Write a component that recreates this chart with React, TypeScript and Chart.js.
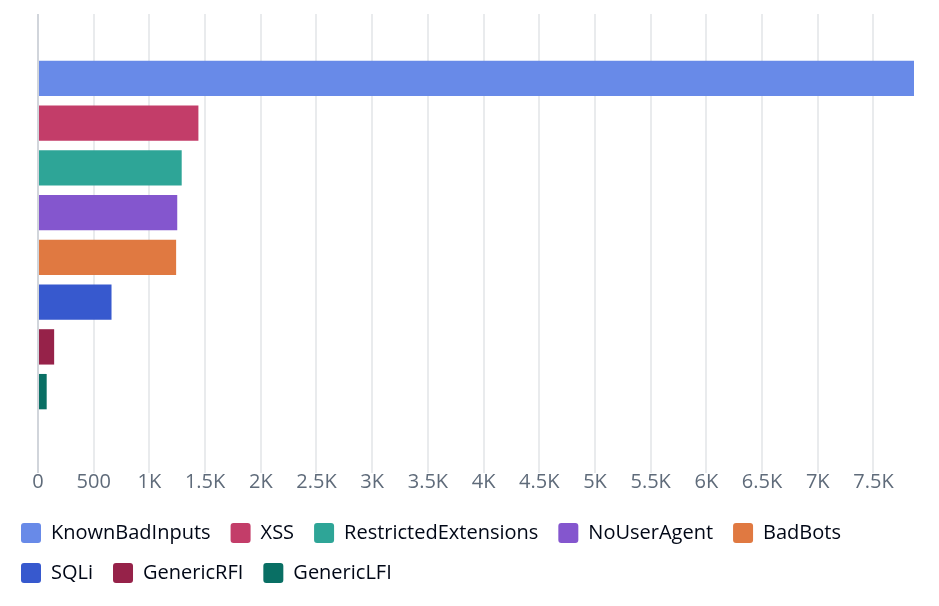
import { useEffect, useRef } from 'react';
import { Chart, registerables } from 'chart.js';

Chart.register(...registerables);

const categories = [''];
const seriesNames = [
  'KnownBadInputs',
  'XSS',
  'RestrictedExtensions',
  'NoUserAgent',
  'BadBots',
  'SQLi',
  'GenericRFI',
  'GenericLFI',
];
const seriesValues = [7864, 1440, 1290, 1250, 1240, 660, 145, 78];
const seriesColors = [
  '#688ae8',
  '#c33d69',
  '#2ea597',
  '#8456ce',
  '#e07941',
  '#3759ce',
  '#962249',
  '#096f64',
];
const xTickValues = [0, 500, 1000, 1500, 2000, 2500, 3000, 3500, 4000, 4500, 5000, 5500, 6000, 6500, 7000, 7500];
const xTickLabels = ['0', '500', '1K', '1.5K', '2K', '2.5K', '3K', '3.5K', '4K', '4.5K', '5K', '5.5K', '6K', '6.5K', '7K', '7.5K'];

const fontFamily = "'Open Sans', 'Noto Sans', sans-serif";

export default function App() {
  const canvasRef = useRef<HTMLCanvasElement | null>(null);

  useEffect(() => {
    if (!canvasRef.current) return;
    const chart = new Chart(canvasRef.current, {
      type: 'bar',
      data: {
        labels: categories,
        datasets: seriesNames.map((name, i) => ({
          label: name,
          data: [seriesValues[i]],
          backgroundColor: seriesColors[i],
          borderWidth: 0,
          barPercentage: 0.79,
          categoryPercentage: 0.81,
        })),
      },
      options: {
        indexAxis: 'y',
        animation: false,
        responsive: true,
        maintainAspectRatio: false,
        layout: { padding: { top: 14, left: 1, right: 25, bottom: 13 } },
        scales: {
          x: {
            type: 'linear',
            min: 0,
            max: Math.max(...seriesValues),
            border: { display: false },
            grid: {
              color: (ctx: any) => (ctx.tick && ctx.tick.value === 0 ? '#d1d5db' : '#e9ebed'),
              lineWidth: 2,
              tickLength: 17,
            },
            afterBuildTicks: (scale: any) => {
              scale.ticks = xTickValues.map((v) => ({ value: v }));
            },
            ticks: {
              color: '#5f6b7a',
              font: { family: fontFamily, size: 20 },
              padding: -3,
              maxRotation: 0,
              autoSkip: false,
              callback: (v: any) => {
                const idx = xTickValues.indexOf(Number(v));
                return idx >= 0 ? xTickLabels[idx] : '';
              },
            },
            afterFit: (scale: any) => {
              scale.height = 47;
            },
          },
          y: {
            type: 'category',
            display: true,
            grid: { display: false },
            border: { display: false },
            ticks: { display: false },
            afterFit: (scale: any) => {
              scale.width = 37;
            },
          },
        },
        plugins: {
          legend: {
            position: 'bottom',
            align: 'start',
            labels: {
              boxWidth: 20,
              boxHeight: 20,
              padding: 20,
              color: '#000716',
              font: { family: fontFamily, size: 20 },
              useBorderRadius: true,
              borderRadius: 3,
            },
          },
          tooltip: { enabled: false },
        },
      },
    });
    return () => chart.destroy();
  }, []);

  return (
    <div style={{ position: 'absolute', left: 0, top: 0, width: 939, height: 606, background: '#ffffff' }}>
      <canvas ref={canvasRef} />
    </div>
  );
}
